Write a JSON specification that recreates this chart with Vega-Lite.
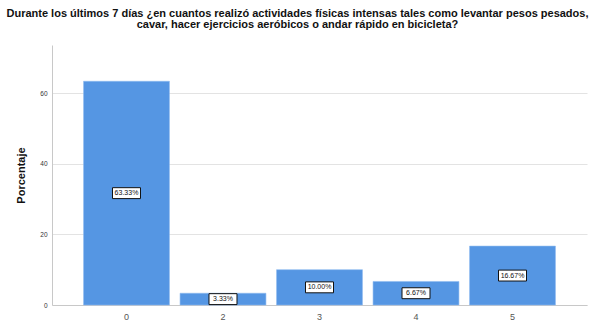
{
  "$schema": "https://vega.github.io/schema/vega-lite/v6.json",
  "width": 535,
  "height": 260,
  "autosize": {"type": "none"},
  "padding": {"left": 52, "top": 45, "right": 4, "bottom": 28},
  "background": "white",
  "config": {
    "font": "Liberation Sans",
    "view": {"stroke": null}
  },
  "title": {
    "text": ["Durante los últimos 7 días ¿en cuantos realizó actividades físicas intensas tales como levantar pesos pesados,", "cavar, hacer ejercicios aeróbicos o andar rápido en bicicleta?"],
    "anchor": "middle",
    "fontSize": 11,
    "fontWeight": "bold",
    "color": "#111111",
    "lineHeight": 11.5,
    "offset": 15,
    "dx": -22
  },
  "data": {
    "values": [
      {"cat": "0", "pct": 63.33, "label": "63.33%"},
      {"cat": "2", "pct": 3.33, "label": "3.33%"},
      {"cat": "3", "pct": 10.0, "label": "10.00%"},
      {"cat": "4", "pct": 6.67, "label": "6.67%"},
      {"cat": "5", "pct": 16.67, "label": "16.67%"}
    ]
  },
  "transform": [{"calculate": "datum.pct / 2", "as": "mid"}],
  "encoding": {
    "x": {
      "field": "cat",
      "type": "nominal",
      "sort": null,
      "scale": {"paddingInner": 0.11, "paddingOuter": 0.327},
      "axis": {
        "title": null,
        "labelAngle": 0,
        "ticks": false,
        "labelFontSize": 9,
        "labelColor": "#555555",
        "labelPadding": 7,
        "domainColor": "#c8c8c8",
        "domainWidth": 1
      }
    }
  },
  "layer": [
    {
      "mark": {"type": "bar", "color": "#5596E3", "stroke": "#8dbaf0", "strokeWidth": 0.6},
      "encoding": {
        "y": {
          "field": "pct",
          "type": "quantitative",
          "scale": {"domain": [0, 73.6], "nice": false},
          "axis": {
            "title": "Porcentaje",
            "titleFontSize": 11,
            "titleFontWeight": "bold",
            "titleColor": "#111111",
            "titlePadding": 13,
            "values": [0, 20, 40, 60],
            "labelFontSize": 6.5,
            "labelColor": "#333333",
            "labelPadding": 5,
            "ticks": false,
            "domainColor": "#c8c8c8",
            "gridColor": "#e3e3e3",
            "grid": true
          }
        }
      }
    },
    {
      "mark": {"type": "point", "shape": "M-1,-0.39H1V0.39H-1Z", "filled": true, "fill": "white", "stroke": "#111111", "strokeWidth": 1, "size": 784, "opacity": 1},
      "encoding": {
        "y": {"field": "mid", "type": "quantitative"}
      }
    },
    {
      "mark": {"type": "text", "fontSize": 7, "color": "#111111", "baseline": "middle"},
      "encoding": {
        "y": {"field": "mid", "type": "quantitative"},
        "text": {"field": "label"}
      }
    }
  ]
}
